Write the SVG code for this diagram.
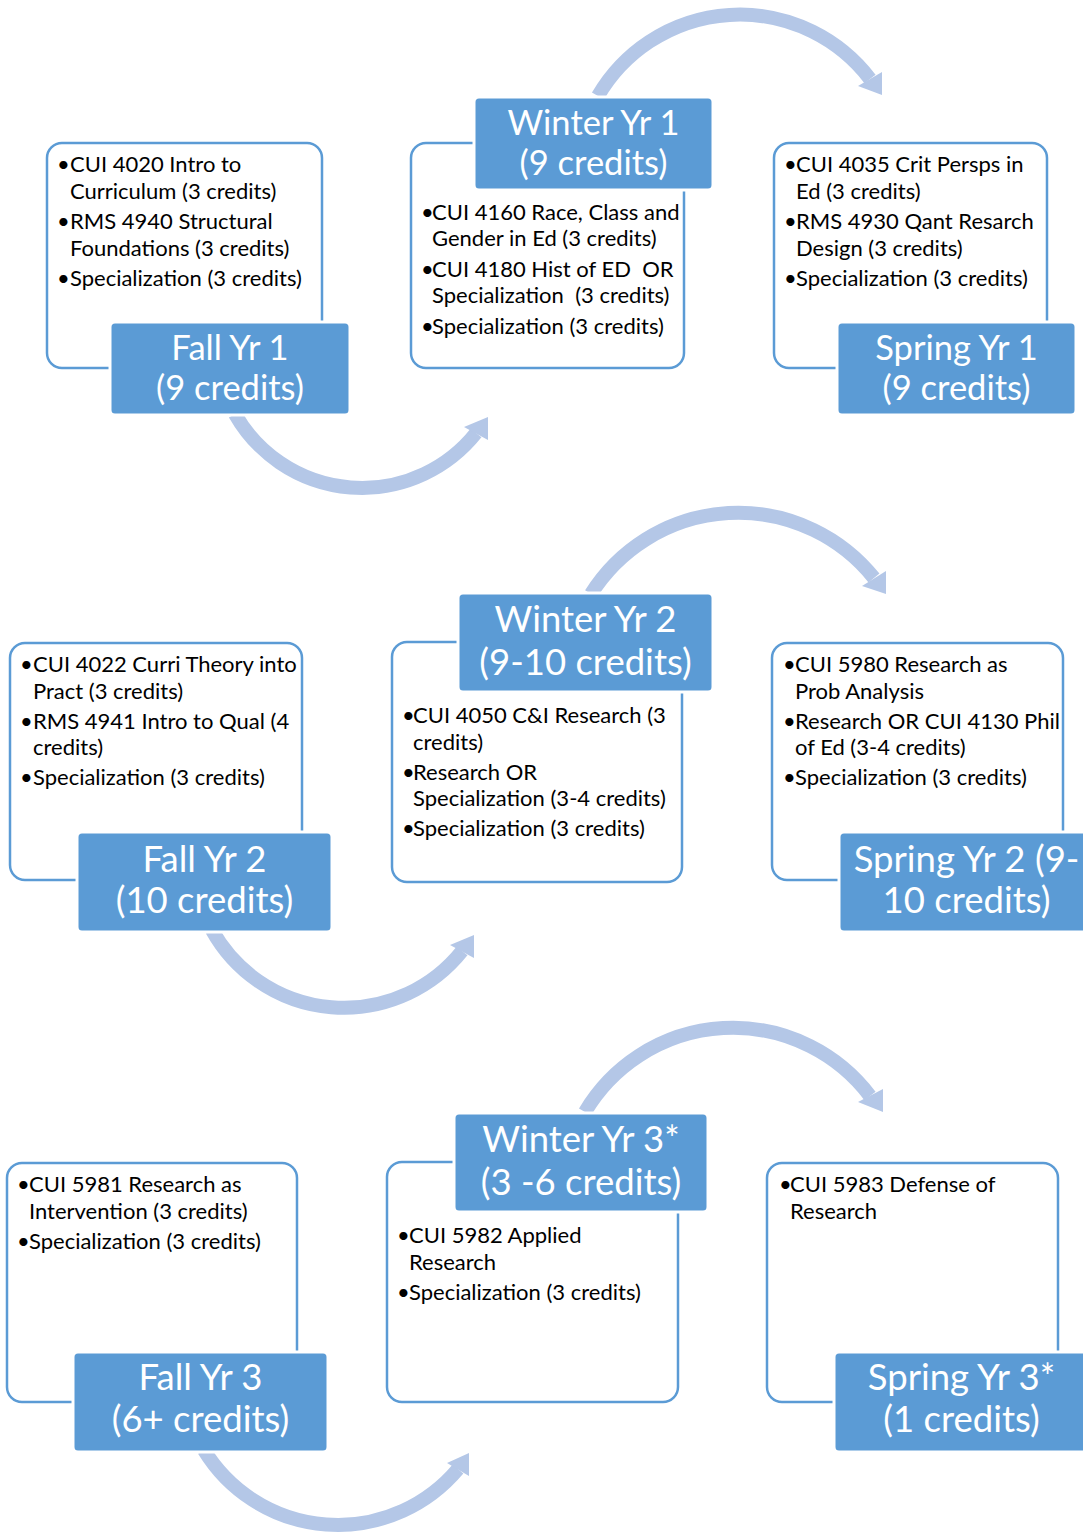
<svg xmlns="http://www.w3.org/2000/svg" width="1083" height="1534" viewBox="0 0 1083 1534">
<style>
.box{fill:#fff;stroke:#5b9bd5;stroke-width:2.5}
.lab{fill:#5b9bd5;stroke:#fff;stroke-width:3}
.t{font-family:Lato,"Liberation Sans",sans-serif;font-size:22px;fill:#000;white-space:pre}
.l1{font-family:Lato,"Liberation Sans",sans-serif;font-size:34.5px;fill:#fff;text-anchor:middle}
.l2{font-family:Lato,"Liberation Sans",sans-serif;font-size:36.5px;fill:#fff;text-anchor:middle}
.arc{fill:none;stroke:#b4c7e7;stroke-width:14}
.head{fill:#b4c7e7}
</style>
<rect width="1083" height="1534" fill="#fff"/>
<g id="connectors">
<path class="arc" d="M598,96 A164,164 0 0 1 870,79"/>
<polygon class="head" points="858,86 882,72 882,95"/>
<path class="arc" d="M235,414 A146,146 0 0 0 476,433"/>
<polygon class="head" points="464,427 488,440 488,417"/>
<path class="arc" d="M591,594 A174,174 0 0 1 874,578"/>
<polygon class="head" points="862,586 886,571 886,594"/>
<path class="arc" d="M212,930 A151,151 0 0 0 462,951"/>
<polygon class="head" points="450,945 474,958 474,935"/>
<path class="arc" d="M585,1112 A172,172 0 0 1 870,1096"/>
<polygon class="head" points="858,1102 883,1089 883,1112"/>
<path class="arc" d="M204,1450 A157,157 0 0 0 458,1469"/>
<polygon class="head" points="447,1463 469,1476 469,1453"/>
</g>
<g id="fall-yr1">
<rect class="box" x="47" y="143" width="275" height="225" rx="15"/>
<text class="t" x="57" y="172">•</text><text class="t" x="70" y="172">CUI 4020 Intro to</text>
<text class="t" x="70" y="199">Curriculum (3 credits)</text>
<text class="t" x="57" y="229">•</text><text class="t" x="70" y="229">RMS 4940 Structural</text>
<text class="t" x="70" y="256">Foundations (3 credits)</text>
<text class="t" x="57" y="286">•</text><text class="t" x="70" y="286">Specialization (3 credits)</text>
<rect class="lab" x="110" y="322" width="240" height="93" rx="5"/>
<text class="l1" x="230" y="360">Fall Yr 1</text>
<text class="l1" x="230" y="400">(9 credits)</text>
</g>
<g id="winter-yr1">
<rect class="box" x="411" y="143" width="273" height="225" rx="15"/>
<text class="t" x="421" y="220">•</text><text class="t" x="432" y="220">CUI 4160 Race, Class and</text>
<text class="t" x="432" y="246">Gender in Ed (3 credits)</text>
<text class="t" x="421" y="277">•</text><text class="t" x="432" y="277">CUI 4180 Hist of ED  OR</text>
<text class="t" x="432" y="303">Specialization  (3 credits)</text>
<text class="t" x="421" y="334">•</text><text class="t" x="432" y="334">Specialization (3 credits)</text>
<rect class="lab" x="474" y="97" width="239" height="93" rx="5"/>
<text class="l1" x="593.5" y="135">Winter Yr 1</text>
<text class="l1" x="593.5" y="175">(9 credits)</text>
</g>
<g id="spring-yr1">
<rect class="box" x="774" y="143" width="273" height="225" rx="15"/>
<text class="t" x="784" y="172">•</text><text class="t" x="796" y="172">CUI 4035 Crit Persps in</text>
<text class="t" x="796" y="199">Ed (3 credits)</text>
<text class="t" x="784" y="229">•</text><text class="t" x="796" y="229">RMS 4930 Qant Resarch</text>
<text class="t" x="796" y="256">Design (3 credits)</text>
<text class="t" x="784" y="286">•</text><text class="t" x="796" y="286">Specialization (3 credits)</text>
<rect class="lab" x="837" y="322" width="239" height="93" rx="5"/>
<text class="l1" x="956.5" y="360">Spring Yr 1</text>
<text class="l1" x="956.5" y="400">(9 credits)</text>
</g>
<g id="fall-yr2">
<rect class="box" x="10" y="643" width="292" height="237" rx="15"/>
<text class="t" x="20" y="672">•</text><text class="t" x="33" y="672">CUI 4022 Curri Theory into</text>
<text class="t" x="33" y="699">Pract (3 credits)</text>
<text class="t" x="20" y="729">•</text><text class="t" x="33" y="729">RMS 4941 Intro to Qual (4</text>
<text class="t" x="33" y="755">credits)</text>
<text class="t" x="20" y="785">•</text><text class="t" x="33" y="785">Specialization (3 credits)</text>
<rect class="lab" x="77" y="832" width="255" height="100" rx="5"/>
<text class="l2" x="204.5" y="872">Fall Yr 2</text>
<text class="l2" x="204.5" y="913">(10 credits)</text>
</g>
<g id="winter-yr2">
<rect class="box" x="392" y="642" width="290" height="240" rx="15"/>
<text class="t" x="402" y="723">•</text><text class="t" x="413" y="723">CUI 4050 C&amp;I Research (3</text>
<text class="t" x="413" y="750">credits)</text>
<text class="t" x="402" y="780">•</text><text class="t" x="413" y="780">Research OR</text>
<text class="t" x="413" y="806">Specialization (3-4 credits)</text>
<text class="t" x="402" y="836">•</text><text class="t" x="413" y="836">Specialization (3 credits)</text>
<rect class="lab" x="458" y="593" width="255" height="99" rx="5"/>
<text class="l2" x="585.5" y="632">Winter Yr 2</text>
<text class="l2" x="585.5" y="675">(9-10 credits)</text>
</g>
<g id="spring-yr2">
<rect class="box" x="772" y="643" width="291" height="237" rx="15"/>
<text class="t" x="783" y="672">•</text><text class="t" x="795" y="672">CUI 5980 Research as</text>
<text class="t" x="795" y="699">Prob Analysis</text>
<text class="t" x="783" y="729">•</text><text class="t" x="795" y="729">Research OR CUI 4130 Phil</text>
<text class="t" x="795" y="755">of Ed (3-4 credits)</text>
<text class="t" x="783" y="785">•</text><text class="t" x="795" y="785">Specialization (3 credits)</text>
<rect class="lab" x="839" y="832" width="255" height="100" rx="5"/>
<text class="l2" x="966.5" y="872">Spring Yr 2 (9-</text>
<text class="l2" x="966.5" y="913">10 credits)</text>
</g>
<g id="fall-yr3">
<rect class="box" x="7" y="1163" width="290" height="239" rx="15"/>
<text class="t" x="17" y="1192">•</text><text class="t" x="29" y="1192">CUI 5981 Research as</text>
<text class="t" x="29" y="1219">Intervention (3 credits)</text>
<text class="t" x="17" y="1249">•</text><text class="t" x="29" y="1249">Specialization (3 credits)</text>
<rect class="lab" x="73" y="1352" width="255" height="100" rx="5"/>
<text class="l2" x="200.5" y="1390">Fall Yr 3</text>
<text class="l2" x="200.5" y="1432">(6+ credits)</text>
</g>
<g id="winter-yr3">
<rect class="box" x="387" y="1162" width="291" height="240" rx="15"/>
<text class="t" x="397" y="1243">•</text><text class="t" x="409" y="1243">CUI 5982 Applied</text>
<text class="t" x="409" y="1270">Research</text>
<text class="t" x="397" y="1300">•</text><text class="t" x="409" y="1300">Specialization (3 credits)</text>
<rect class="lab" x="454" y="1113" width="254" height="99" rx="5"/>
<text class="l2" x="581" y="1152">Winter Yr 3*</text>
<text class="l2" x="581" y="1195">(3 -6 credits)</text>
</g>
<g id="spring-yr3">
<rect class="box" x="767" y="1163" width="291" height="239" rx="15"/>
<text class="t" x="779" y="1192">•</text><text class="t" x="790" y="1192">CUI 5983 Defense of</text>
<text class="t" x="790" y="1219">Research</text>
<rect class="lab" x="834" y="1352" width="255" height="100" rx="5"/>
<text class="l2" x="961.5" y="1390">Spring Yr 3*</text>
<text class="l2" x="961.5" y="1432">(1 credits)</text>
</g>
</svg>
